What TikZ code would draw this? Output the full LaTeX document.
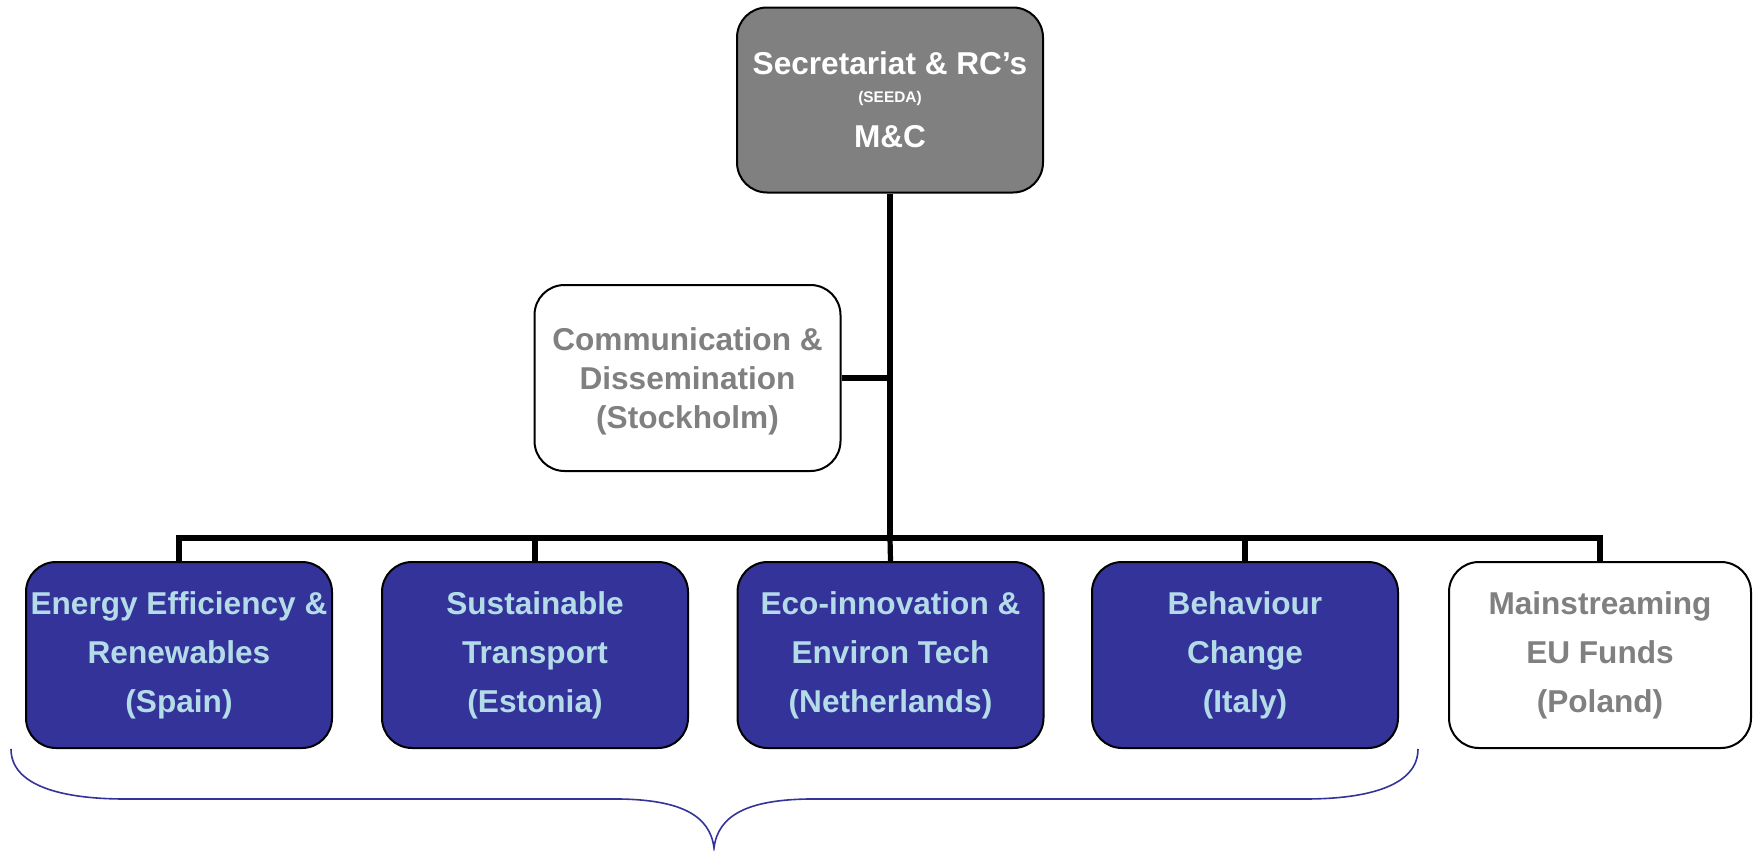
\documentclass[tikz,border=0pt]{standalone}
\usepackage{fontspec}
\setmainfont{Liberation Sans}
\definecolor{boxblue}{RGB}{51,51,153}
\definecolor{txtblue}{RGB}{180,220,232}
\definecolor{txtgray}{RGB}{128,128,128}
\definecolor{topgray}{RGB}{128,128,128}
\tikzset{
  orgbox/.style={draw=black, line width=1pt, rounded corners=15pt, minimum width=153pt, minimum height=93pt, inner sep=0pt, align=center, font=\fontsize{15.8}{24.5}\selectfont\bfseries},
  bluebox/.style={orgbox, fill=boxblue, text=txtblue},
  whitebox/.style={orgbox, fill=white, text=txtgray},
  conn/.style={draw=black, line width=2.6pt},
}
\begin{document}
\begin{tikzpicture}[x=0.5pt,y=-0.5pt]
\useasboundingbox (0,0) rectangle (1753,851);
\node[orgbox, fill=topgray, text=white, minimum width=153pt, minimum height=92.5pt, font=\fontsize{15.8}{13.8}\selectfont\bfseries] (top) at (890,100)
  {Secretariat \& RC’s\\{\fontsize{7.7}{8}\selectfont (SEEDA)}\\[8.7pt]M\&C};
\node[whitebox, text depth=0pt, font=\fontsize{15.8}{19.5}\selectfont\bfseries] (comm) at (687.5,378) {Communication \&\\Dissemination\\(Stockholm)};
\node[bluebox] (b1) at (179,655) {Energy Efficiency \&\\Renewables\\(Spain)};
\node[bluebox] (b2) at (535,655) {Sustainable\\Transport\\(Estonia)};
\node[bluebox] (b3) at (890.5,655) {Eco-innovation \&\\Environ Tech\\(Netherlands)};
\node[bluebox] (b4) at (1245,655) {Behaviour\\Change\\(Italy)};
\node[whitebox, minimum width=151pt] (b5) at (1600,655) {Mainstreaming\\EU Funds\\(Poland)};
\coordinate (j) at (top.south |- 0,538);
\draw[conn] (top.south) -- (j);
\draw[conn] (comm.east) -- (comm.east -| j);
\draw[conn] (b1.north) |- (j) -| (b5.north);
\draw[conn] (j) -| (b2.north);
\draw[conn] (j) -- (b3.north);
\draw[conn] (j) -| (b4.north);
\draw[boxblue, line width=0.8pt] (11,749) .. controls (11,785) and (60,799) .. (125,799) -- (620,799) .. controls (680,800) and (710,815) .. (714,848) .. controls (718,815) and (748,800) .. (808,799) -- (1305,799) .. controls (1370,799) and (1418,785) .. (1418,749);
\end{tikzpicture}
\end{document}
